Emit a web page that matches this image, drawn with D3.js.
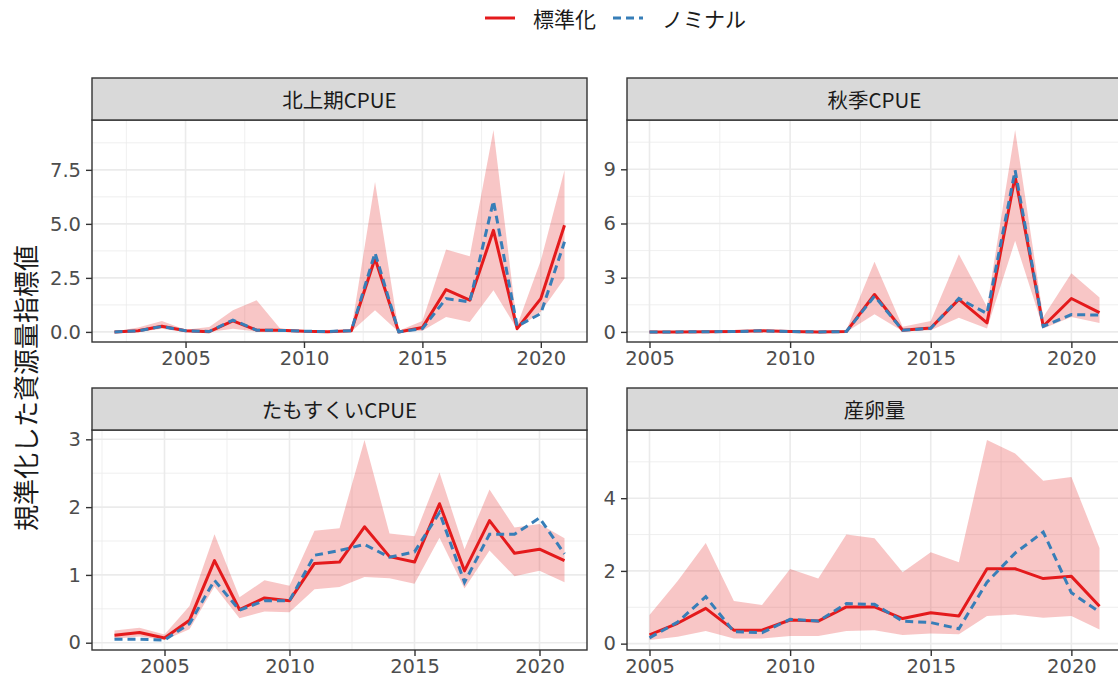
<!DOCTYPE html>
<html>
<head>
<meta charset="utf-8">
<script src="https://cdn.jsdelivr.net/npm/d3@7"></script>
<style>
  body { margin: 0; background: #fff; }
  svg { display: block; font-family: "Noto Sans CJK JP", "Noto Sans", sans-serif; }
</style>
</head>
<body>
<div id="chart"></div>
<script>
// series names
const seriesNames = ["標準化", "ノミナル"]
const yTitle = "規準化した資源量指標値"

// 北上期CPUE
const kitaYears = d3.range(2002, 2022)
const kitaStd = [0.0, 0.05, 0.26, 0.05, 0.01, 0.51, 0.08, 0.08, 0.03, 0.01, 0.05, 3.4, 0.0, 0.2, 1.96, 1.47, 4.7, 0.15, 1.54, 4.94]
const kitaNom = [0.0, 0.05, 0.25, 0.05, 0.02, 0.55, 0.08, 0.07, 0.03, 0.02, 0.06, 3.66, 0.0, 0.15, 1.54, 1.39, 6.06, 0.26, 0.85, 4.17]
const kitaLo = [0.0, 0.0, 0.15, 0.0, 0.0, 0.15, 0.02, 0.02, 0.0, 0.0, 0.02, 1.0, 0.0, 0.05, 0.69, 0.46, 1.93, 0.12, 0.93, 2.47]
const kitaHi = [0.02, 0.2, 0.5, 0.1, 0.23, 1.0, 1.47, 0.15, 0.05, 0.03, 0.1, 6.94, 0.05, 0.51, 3.81, 3.5, 9.34, 0.3, 3.3, 7.48]

// 秋季CPUE
const akiYears = d3.range(2005, 2022)
const akiStd = [0.0, 0.0, 0.01, 0.02, 0.06, 0.02, 0.0, 0.02, 2.07, 0.09, 0.22, 1.8, 0.5, 8.6, 0.31, 1.85, 1.07]
const akiNom = [0.0, 0.0, 0.01, 0.02, 0.06, 0.02, 0.0, 0.02, 1.98, 0.09, 0.2, 1.85, 1.02, 8.94, 0.31, 0.96, 0.93]
const akiLo = [0.0, 0.0, 0.0, 0.0, 0.0, 0.0, 0.0, 0.0, 0.98, 0.03, 0.09, 0.78, 0.19, 5.04, 0.19, 0.83, 0.5]
const akiHi = [0.03, 0.03, 0.03, 0.03, 0.08, 0.03, 0.03, 0.1, 3.89, 0.28, 0.61, 4.3, 1.39, 11.17, 0.83, 3.24, 1.9]

// たもすくいCPUE
const tamoYears = d3.range(2003, 2022)
const tamoStd = [0.11, 0.15, 0.07, 0.33, 1.21, 0.49, 0.66, 0.62, 1.17, 1.19, 1.71, 1.27, 1.19, 2.05, 1.06, 1.8, 1.32, 1.38, 1.21]
const tamoNom = [0.05, 0.05, 0.04, 0.28, 0.92, 0.48, 0.62, 0.62, 1.29, 1.36, 1.45, 1.26, 1.34, 1.92, 0.89, 1.6, 1.6, 1.84, 1.31]
const tamoLo = [0.06, 0.09, 0.04, 0.2, 0.83, 0.36, 0.46, 0.45, 0.79, 0.82, 0.97, 0.95, 0.87, 1.55, 0.8, 1.36, 0.98, 1.06, 0.89]
const tamoHi = [0.18, 0.22, 0.12, 0.54, 1.6, 0.67, 0.92, 0.84, 1.65, 1.69, 2.99, 1.61, 1.57, 2.51, 1.38, 2.26, 1.7, 1.75, 1.54]

// 産卵量
const eggYears = d3.range(2005, 2022)
const eggStd = [0.24, 0.56, 0.97, 0.37, 0.37, 0.65, 0.62, 1.01, 1.01, 0.69, 0.85, 0.76, 2.06, 2.06, 1.79, 1.85, 1.03]
const eggNom = [0.16, 0.59, 1.29, 0.33, 0.3, 0.67, 0.62, 1.1, 1.08, 0.62, 0.58, 0.41, 1.69, 2.49, 3.07, 1.4, 0.87]
const eggLo = [0.1, 0.19, 0.35, 0.14, 0.14, 0.21, 0.21, 0.35, 0.37, 0.24, 0.28, 0.26, 0.76, 0.8, 0.71, 0.76, 0.39]
const eggHi = [0.79, 1.72, 2.77, 1.17, 1.06, 2.05, 1.79, 3.0, 2.9, 1.96, 2.51, 2.24, 5.6, 5.23, 4.48, 4.58, 2.63]

const xTicks = [2005, 2010, 2015, 2020]

const width = 1118, height = 686
const red = "#E41A1C", blue = "#377EB8"

const svg = d3.select("#chart").append("svg")
    .attr("width", width)
    .attr("height", height)

// panel layout (facet_wrap, 2 columns, free scales)
const panels = [
    {title: "北上期CPUE", years: kitaYears, std: kitaStd, nom: kitaNom, lo: kitaLo, hi: kitaHi,
        yTicks: [0, 2.5, 5, 7.5], fmt: d3.format(".1f"), x0: 92, y0: 120, h: 222},
    {title: "秋季CPUE", years: akiYears, std: akiStd, nom: akiNom, lo: akiLo, hi: akiHi,
        yTicks: [0, 3, 6, 9], fmt: d3.format("d"), x0: 627, y0: 120, h: 222},
    {title: "たもすくいCPUE", years: tamoYears, std: tamoStd, nom: tamoNom, lo: tamoLo, hi: tamoHi,
        yTicks: [0, 1, 2, 3], fmt: d3.format("d"), x0: 92, y0: 430, h: 220},
    {title: "産卵量", years: eggYears, std: eggStd, nom: eggNom, lo: eggLo, hi: eggHi,
        yTicks: [0, 2, 4], fmt: d3.format("d"), x0: 627, y0: 430, h: 220}
]
const panelW = 495, stripH = 42

panels.forEach(function (p) {
    const rows = p.years.map((yr, i) => ({year: yr, std: p.std[i], nom: p.nom[i], lo: p.lo[i], hi: p.hi[i]}))

    const xMin = d3.min(p.years), xMax = d3.max(p.years)
    const xPad = (xMax - xMin) * 0.05
    const x = d3.scaleLinear().domain([xMin - xPad, xMax + xPad]).range([p.x0, p.x0 + panelW])

    const allVals = p.std.concat(p.nom, p.lo, p.hi)
    const yMin = d3.min(allVals), yMax = d3.max(allVals)
    const yPad = (yMax - yMin) * 0.05
    const y = d3.scaleLinear().domain([yMin - yPad, yMax + yPad]).range([p.y0 + p.h, p.y0])

    const g = svg.append("g")

    // minor grid
    const xStep = xTicks[1] - xTicks[0]
    const xMinor = d3.range(xTicks[0] - xStep * 1.5, xTicks[xTicks.length - 1] + xStep * 1.5, xStep)
        .filter(v => v > x.domain()[0] && v < x.domain()[1])
    const yStep = p.yTicks[1] - p.yTicks[0]
    const yMinor = d3.range(p.yTicks[0] - yStep * 1.5, p.yTicks[p.yTicks.length - 1] + yStep * 1.5, yStep)
        .filter(v => v > y.domain()[0] && v < y.domain()[1])

    g.selectAll(".xminor").data(xMinor).enter().append("line")
        .attr("x1", d => x(d)).attr("x2", d => x(d))
        .attr("y1", p.y0).attr("y2", p.y0 + p.h)
        .attr("stroke", "#EBEBEB").attr("stroke-width", 0.8)
    g.selectAll(".yminor").data(yMinor).enter().append("line")
        .attr("x1", p.x0).attr("x2", p.x0 + panelW)
        .attr("y1", d => y(d)).attr("y2", d => y(d))
        .attr("stroke", "#EBEBEB").attr("stroke-width", 0.8)

    // major grid
    g.selectAll(".xmajor").data(xTicks).enter().append("line")
        .attr("x1", d => x(d)).attr("x2", d => x(d))
        .attr("y1", p.y0).attr("y2", p.y0 + p.h)
        .attr("stroke", "#EBEBEB").attr("stroke-width", 1.6)
    g.selectAll(".ymajor").data(p.yTicks).enter().append("line")
        .attr("x1", p.x0).attr("x2", p.x0 + panelW)
        .attr("y1", d => y(d)).attr("y2", d => y(d))
        .attr("stroke", "#EBEBEB").attr("stroke-width", 1.6)

    // confidence band
    g.append("path")
        .datum(rows)
        .attr("d", d3.area().x(d => x(d.year)).y0(d => y(d.lo)).y1(d => y(d.hi)))
        .attr("fill", red)
        .attr("fill-opacity", 0.25)

    // standardised
    g.append("path")
        .datum(rows)
        .attr("d", d3.line().x(d => x(d.year)).y(d => y(d.std)))
        .attr("fill", "none")
        .attr("stroke", red)
        .attr("stroke-width", 3)
        .attr("stroke-linejoin", "round")

    // nominal
    g.append("path")
        .datum(rows)
        .attr("d", d3.line().x(d => x(d.year)).y(d => y(d.nom)))
        .attr("fill", "none")
        .attr("stroke", blue)
        .attr("stroke-width", 3)
        .attr("stroke-dasharray", "8,5")

    // panel border
    g.append("rect")
        .attr("x", p.x0).attr("y", p.y0)
        .attr("width", panelW).attr("height", p.h)
        .attr("fill", "none")
        .attr("stroke", "#333333")
        .attr("stroke-width", 1.4)

    // strip
    g.append("rect")
        .attr("x", p.x0).attr("y", p.y0 - stripH)
        .attr("width", panelW).attr("height", stripH)
        .attr("fill", "#D9D9D9")
        .attr("stroke", "#333333")
        .attr("stroke-width", 1.4)
    g.append("text")
        .attr("x", p.x0 + panelW / 2)
        .attr("y", p.y0 - stripH / 2)
        .attr("text-anchor", "middle")
        .attr("dominant-baseline", "central")
        .attr("fill", "#1A1A1A")
        .style("font-size", "20.5px")
        .text(p.title)

    // axes
    const xAxis = g.append("g")
        .attr("transform", "translate(0," + (p.y0 + p.h) + ")")
        .call(d3.axisBottom(x).tickValues(xTicks).tickFormat(d3.format("d")).tickSizeInner(6).tickSizeOuter(0).tickPadding(3))
    const yAxis = g.append("g")
        .attr("transform", "translate(" + p.x0 + ",0)")
        .call(d3.axisLeft(y).tickValues(p.yTicks).tickFormat(p.fmt).tickSizeInner(6).tickSizeOuter(0).tickPadding(5))
    ;[xAxis, yAxis].forEach(function (a) {
        a.select(".domain").remove()
        a.selectAll(".tick line").attr("stroke", "#333333").attr("stroke-width", 1.4)
        a.selectAll(".tick text")
            .attr("fill", "#4D4D4D")
            .style("font-size", "19.5px")
            .style("font-family", "'DejaVu Sans', sans-serif")
    })
})

// y axis title
svg.append("text")
    .attr("transform", "translate(24,388) rotate(-90)")
    .attr("text-anchor", "middle")
    .attr("dominant-baseline", "central")
    .attr("fill", "#1A1A1A")
    .style("font-size", "26px")
    .text(yTitle)

// legend
const legend = svg.append("g")
legend.append("line")
    .attr("x1", 485).attr("x2", 515).attr("y1", 18).attr("y2", 18)
    .attr("stroke", red).attr("stroke-width", 3)
legend.append("text")
    .attr("x", 533).attr("y", 18)
    .attr("dominant-baseline", "central")
    .attr("fill", "#1A1A1A")
    .style("font-size", "21px")
    .text(seriesNames[0])
legend.append("line")
    .attr("x1", 613).attr("x2", 643).attr("y1", 18).attr("y2", 18)
    .attr("stroke", blue).attr("stroke-width", 3)
    .attr("stroke-dasharray", "8,5")
legend.append("text")
    .attr("x", 662).attr("y", 18)
    .attr("dominant-baseline", "central")
    .attr("fill", "#1A1A1A")
    .style("font-size", "21px")
    .text(seriesNames[1])
</script>
</body>
</html>
